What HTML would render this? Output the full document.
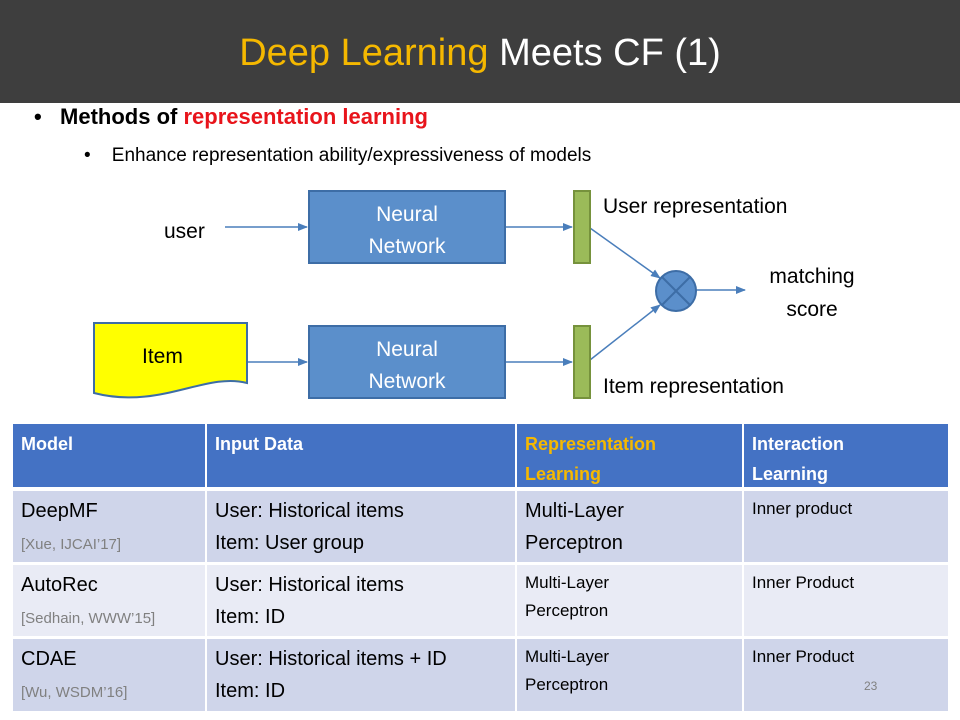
<!DOCTYPE html>
<html><head><meta charset="utf-8"><style>
body{margin:0;width:960px;height:720px;background:#fff;position:relative;overflow:hidden;font-family:"Liberation Sans",sans-serif}
.hdr{position:absolute;left:0;top:0;width:960px;height:103px;background:#3e3e3e;color:#fff;font-size:38px;text-align:center;line-height:106px}
.t{position:absolute;white-space:nowrap}
.c{position:absolute;box-sizing:border-box;padding:4px 8px;overflow:hidden;color:#000;font-size:20px;line-height:32px}
.h{background:#4472c4;color:#fff;font-weight:bold;font-size:18px;line-height:30px;padding-top:5px}
.a{background:#cfd5ea}.b{background:#e9ebf5}
.g{color:#808080;font-size:15px}
.s{font-size:17px;line-height:28px}
</style></head><body>
<div class="hdr"><span style="color:#f5b800">Deep Learning</span> Meets CF (1)</div>
<div class="t" style="left:34px;top:104px;font-size:22px;font-weight:bold">•&nbsp;&nbsp;&nbsp;Methods of <span style="color:#e8141b">representation learning</span></div>
<div class="t" style="left:84px;top:145px;font-size:19px">•&nbsp;&nbsp;&nbsp;&nbsp;Enhance representation ability/expressiveness of models</div>
<svg style="position:absolute;left:0;top:0" width="960" height="720">
<defs><marker id="ar" markerWidth="10" markerHeight="8" refX="9" refY="4" orient="auto" markerUnits="userSpaceOnUse"><path d="M0,0L10,4L0,8z" fill="#4a7ebb"/></marker></defs>
<g stroke="#4a7ebb" stroke-width="1.5" fill="none" marker-end="url(#ar)">
<line x1="225" y1="227" x2="307" y2="227"/>
<line x1="505" y1="227" x2="572" y2="227"/>
<line x1="247" y1="362" x2="307" y2="362"/>
<line x1="505" y1="362" x2="572" y2="362"/>
<line x1="590" y1="228" x2="660" y2="278"/>
<line x1="590" y1="360" x2="660" y2="305"/>
<line x1="696" y1="290" x2="745" y2="290"/>
</g>
<rect x="309" y="191" width="196" height="72" fill="#5b8fcb" stroke="#3d6da6" stroke-width="2"/>
<rect x="309" y="326" width="196" height="72" fill="#5b8fcb" stroke="#3d6da6" stroke-width="2"/>
<rect x="574" y="191" width="16" height="72" fill="#9bbb59" stroke="#76923c" stroke-width="2"/>
<rect x="574" y="326" width="16" height="72" fill="#9bbb59" stroke="#76923c" stroke-width="2"/>
<circle cx="676" cy="291" r="20" fill="#5b8fcb" stroke="#3d6da6" stroke-width="2"/>
<line x1="662" y1="277" x2="690" y2="305" stroke="#3d6da6" stroke-width="2"/>
<line x1="690" y1="277" x2="662" y2="305" stroke="#3d6da6" stroke-width="2"/>
<path d="M94,323H247V383C205,372 160,410 94,393Z" fill="#ffff00" stroke="#3d6da6" stroke-width="2"/>
<g font-size="21" fill="#fff" text-anchor="middle"><text x="407" y="221">Neural</text><text x="407" y="253">Network</text><text x="407" y="356">Neural</text><text x="407" y="388">Network</text></g>
<g font-size="21" fill="#000"><text x="164" y="238">user</text><text x="142" y="363">Item</text>
<text x="603" y="213">User representation</text><text x="603" y="393">Item representation</text>
<text x="812" y="283" text-anchor="middle">matching</text><text x="812" y="316" text-anchor="middle">score</text></g>
</svg>
<div class="c h" style="left:13px;top:424px;width:192px;height:63px">Model</div>
<div class="c h" style="left:207px;top:424px;width:308px;height:63px">Input Data</div>
<div class="c h" style="left:517px;top:424px;width:225px;height:63px;color:#f5b800">Representation<br>Learning</div>
<div class="c h" style="left:744px;top:424px;width:204px;height:63px">Interaction<br>Learning</div>

<div class="c a" style="left:13px;top:491px;width:192px;height:71px">DeepMF<br><span class="g">[Xue, IJCAI’17]</span></div>
<div class="c a" style="left:207px;top:491px;width:308px;height:71px">User: Historical items<br>Item: User group</div>
<div class="c a" style="left:517px;top:491px;width:225px;height:71px">Multi-Layer<br>Perceptron</div>
<div class="c a s" style="left:744px;top:491px;width:204px;height:71px">Inner product</div>

<div class="c b" style="left:13px;top:565px;width:192px;height:71px">AutoRec<br><span class="g">[Sedhain, WWW’15]</span></div>
<div class="c b" style="left:207px;top:565px;width:308px;height:71px">User: Historical items<br>Item: ID</div>
<div class="c b s" style="left:517px;top:565px;width:225px;height:71px">Multi-Layer<br>Perceptron</div>
<div class="c b s" style="left:744px;top:565px;width:204px;height:71px">Inner Product</div>

<div class="c a" style="left:13px;top:639px;width:192px;height:72px">CDAE<br><span class="g">[Wu, WSDM’16]</span></div>
<div class="c a" style="left:207px;top:639px;width:308px;height:72px">User: Historical items + ID<br>Item: ID</div>
<div class="c a s" style="left:517px;top:639px;width:225px;height:72px">Multi-Layer<br>Perceptron</div>
<div class="c a s" style="left:744px;top:639px;width:204px;height:72px">Inner Product<br><span style="font-size:12px;color:#808080;margin-left:112px">23</span></div>
</body></html>
